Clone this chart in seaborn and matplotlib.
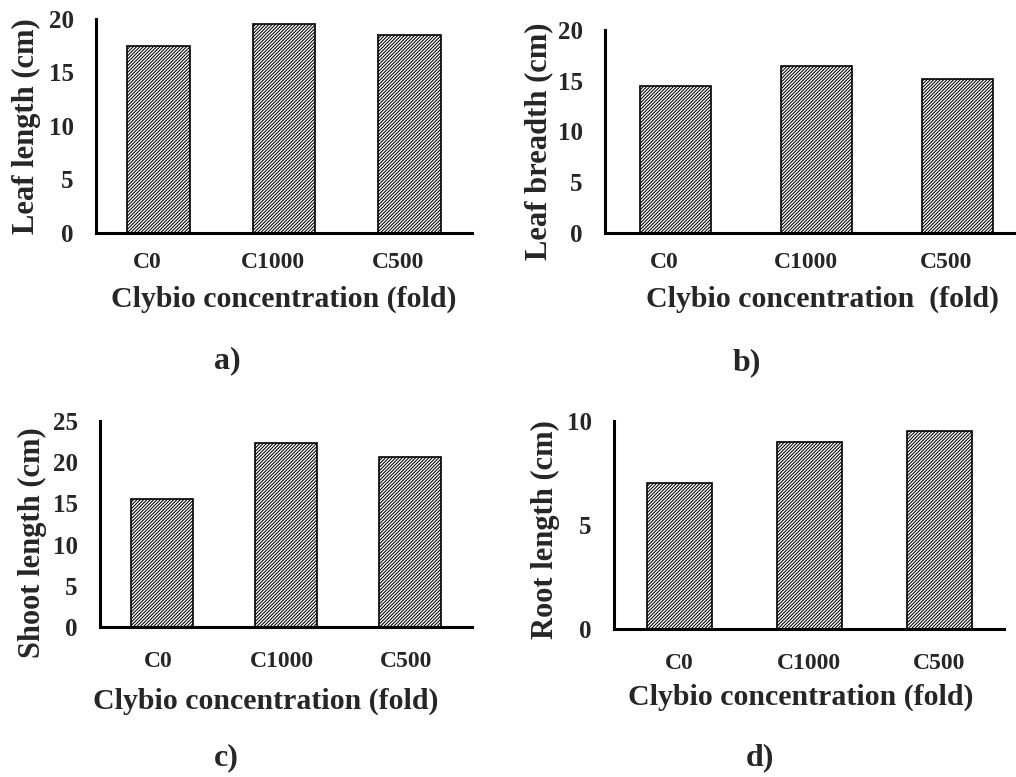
import matplotlib
matplotlib.use('Agg')
import matplotlib.pyplot as plt
import matplotlib.transforms as mtransforms
import seaborn as sns
import pandas as pd

categories = ["C0", "C1000", "C500"]
leaf_length = [17.5, 19.5, 18.5]
leaf_breadth = [14.5, 16.5, 15.2]
shoot_length = [15.5, 22.3, 20.6]
root_length = [7.0, 9.0, 9.5]

ylabels = ["Leaf length (cm)", "Leaf breadth (cm)", "Shoot length (cm)", "Root length (cm)"]
xlabels = ["Clybio concentration (fold)", "Clybio concentration  (fold)",
           "Clybio concentration (fold)", "Clybio concentration (fold)"]
panel_letters = ["a)", "b)", "c)", "d)"]
y_ticks = [[0, 5, 10, 15, 20], [0, 5, 10, 15, 20], [0, 5, 10, 15, 20, 25], [0, 5, 10]]
y_max = [20, 20, 25, 10]
series = [leaf_length, leaf_breadth, shoot_length, root_length]

sns.set_style('white')
plt.rcParams['font.family'] = ['Liberation Serif', 'DejaVu Serif']
plt.rcParams['font.weight'] = 'bold'
plt.rcParams['axes.labelweight'] = 'bold'
plt.rcParams['hatch.linewidth'] = 0.75

W, H = 1016, 777
fig = plt.figure(figsize=(W / 100, H / 100), dpi=100)

# layout (pixels): left, top, right, bottom
boxes = [(96, 19, 472, 233), (605, 30, 1028, 233), (100, 421, 472, 627), (614, 421, 1004, 629)]
ylab_pos = [(-0.146, 0.5), (-0.123, 0.45), (-0.142, 0.41), (-0.138, 0.48)]
xlab_pos = [(0.5, -0.248), (0.515, -0.261), (0.446, -0.296), (0.48, -0.264)]
xtick_pad = [14, 14, 17, 17]
xtick_dx = [-11, -11, -4, 0]
letter_pos = [(227, 361), (747, 363), (226, 758), (760, 758)]

for i in range(4):
    l, t, r, b = boxes[i]
    ax = fig.add_axes([l / W, 1 - b / H, (r - l) / W, (b - t) / H])
    df = pd.DataFrame({"cat": categories, "val": series[i]})
    sns.barplot(data=df, x="cat", y="val", ax=ax, color="white",
                edgecolor="black", linewidth=1.2, width=0.5, saturation=1)
    for p in ax.patches:
        p.set_hatch('//////////')
        p.set_facecolor('white')
        p.set_edgecolor('black')
    ax.set_xlim(-0.5, 2.5)
    ax.set_ylim(0, y_max[i])
    ax.set_yticks(y_ticks[i])
    ax.set_yticklabels([str(v) for v in y_ticks[i]], fontsize=18, fontweight='bold')
    ax.set_xticks(range(len(categories)))
    ax.set_xticklabels(categories, fontsize=17, fontweight='bold')
    ax.tick_params(axis='x', length=0, pad=xtick_pad[i])
    ax.tick_params(axis='y', length=0, pad=16)
    for sp in ['top', 'right']:
        ax.spines[sp].set_visible(False)
    for sp in ['left', 'bottom']:
        ax.spines[sp].set_linewidth(2.2)
        ax.spines[sp].set_color('black')
    ax.set_ylabel(ylabels[i], fontsize=22, fontweight='bold')
    ax.set_xlabel(xlabels[i], fontsize=21.5, fontweight='bold')
    ax.yaxis.set_label_coords(*ylab_pos[i])
    ax.xaxis.set_label_coords(*xlab_pos[i])
    off = mtransforms.ScaledTranslation(xtick_dx[i] / 100, 0, fig.dpi_scale_trans)
    for lab in ax.get_xticklabels():
        lab.set_transform(lab.get_transform() + off)
    lx, ly = letter_pos[i]
    fig.text(lx / W, 1 - ly / H, panel_letters[i], fontsize=23, fontweight='bold',
             ha='center', va='center')

fig.savefig('out.png', dpi=100)
